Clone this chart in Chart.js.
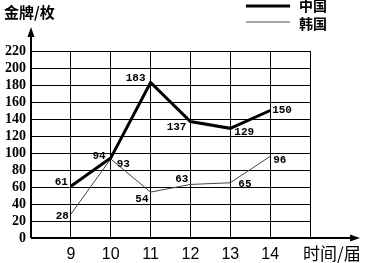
<!DOCTYPE html>
<html>
<head>
<meta charset="utf-8">
<script src="https://cdn.jsdelivr.net/npm/chart.js@4.4.0/dist/chart.umd.min.js"></script>
<style>
  html, body { margin: 0; padding: 0; background: #fff; }
  #wrap { width: 366px; height: 263px; }
</style>
</head>
<body>
<div id="wrap"><canvas id="chart_medals" width="366" height="263"></canvas></div>
<script>
// 届次 (x) and 金牌数 (y)
const sessions = [9, 10, 11, 12, 13, 14];
const china = [61, 94, 183, 137, 129, 150];
const korea = [28, 93, 54, 63, 65, 96];
const yMax = 220;
const yStep = 20;

// where each value label sits next to its point: [align, dx, dy]
const chinaLabelPos = [
  ["right", -3, -4], ["right", -5, -2], ["right", -5, -4],
  ["right", -4, 6], ["left", 4, 4], ["left", 2, 0],
];
const koreaLabelPos = [
  ["right", -2, 2], ["left", 6, 5], ["right", -2, 7],
  ["right", -2, -5], ["left", 8, 1], ["left", 3, 4],
];

const toPoints = (values) => values.map((v, i) => ({ x: sessions[i], y: v }));

const valueLabels = {
  id: "valueLabels",
  afterDatasetsDraw(chart) {
    const ctx = chart.ctx;
    ctx.save();
    ctx.font = "bold 11px 'Liberation Mono'";
    ctx.fillStyle = "#000";
    ctx.textBaseline = "middle";
    chart.data.datasets.forEach((ds, i) => {
      const meta = chart.getDatasetMeta(i);
      meta.data.forEach((pt, j) => {
        const [align, dx, dy] = ds.labelPos[j];
        ctx.textAlign = align;
        ctx.fillText(String(ds.data[j].y), pt.x + dx, pt.y + dy);
      });
    });
    ctx.restore();
  },
};

const axesAndText = {
  id: "axesAndText",
  afterDraw(chart) {
    const ctx = chart.ctx;
    const { left, right, top, bottom } = chart.chartArea;
    ctx.save();
    ctx.strokeStyle = "#000";
    ctx.fillStyle = "#000";
    ctx.lineWidth = 2;

    // y axis with arrow
    ctx.beginPath();
    ctx.moveTo(left, bottom);
    ctx.lineTo(left, top - 18);
    ctx.stroke();
    ctx.beginPath();
    ctx.moveTo(left, top - 24);
    ctx.lineTo(left - 3.5, top - 14);
    ctx.lineTo(left + 3.5, top - 14);
    ctx.closePath();
    ctx.fill();

    // x axis with arrow
    ctx.beginPath();
    ctx.moveTo(left, bottom);
    ctx.lineTo(right + 44, bottom);
    ctx.stroke();
    ctx.beginPath();
    ctx.moveTo(right + 50, bottom);
    ctx.lineTo(right + 40, bottom - 3.5);
    ctx.lineTo(right + 40, bottom + 3.5);
    ctx.closePath();
    ctx.fill();

    // axis titles
    ctx.textBaseline = "middle";
    ctx.textAlign = "left";
    ctx.font = "bold 15px 'Noto Sans CJK SC'";
    ctx.fillText("金牌/枚", 4, 12);
    ctx.font = "17px 'Noto Sans CJK SC'";
    ctx.fillText("时间/届", 303, 254);

    // legend
    ctx.lineWidth = 3;
    ctx.beginPath();
    ctx.moveTo(246, 6);
    ctx.lineTo(290, 6);
    ctx.stroke();
    ctx.strokeStyle = "#888";
    ctx.lineWidth = 1.5;
    ctx.beginPath();
    ctx.moveTo(246, 22);
    ctx.lineTo(290, 22);
    ctx.stroke();
    ctx.font = "bold 14px 'Noto Sans CJK SC'";
    ctx.fillText("中国", 299, 6);
    ctx.fillText("韩国", 299, 24);
    ctx.restore();
  },
};

new Chart(document.getElementById("chart_medals"), {
  type: "line",
  data: {
    datasets: [
      {
        label: "中国",
        data: toPoints(china),
        labelPos: chinaLabelPos,
        borderColor: "#000",
        borderWidth: 3,
        pointRadius: 0,
        fill: false,
      },
      {
        label: "韩国",
        data: toPoints(korea),
        labelPos: koreaLabelPos,
        borderColor: "#444",
        borderWidth: 1,
        pointRadius: 0,
        fill: false,
      },
    ],
  },
  options: {
    responsive: false,
    animation: false,
    devicePixelRatio: 1,
    layout: { padding: { top: 51, right: 56, left: 0, bottom: 0 } },
    scales: {
      x: {
        type: "linear",
        min: sessions[0] - 1,
        max: sessions[sessions.length - 1] + 1,
        afterFit: (scale) => { scale.height = 25; },
        border: { display: false },
        grid: { color: "#000", lineWidth: 1, drawTicks: false },
        ticks: {
          stepSize: 1,
          autoSkip: false,
          padding: 7,
          color: "#000",
          font: { family: "'Liberation Sans'", size: 16 },
          callback: (v) => (sessions.includes(v) ? String(v) : ""),
        },
      },
      y: {
        min: 0,
        max: yMax,
        afterFit: (scale) => { scale.width = 31; },
        border: { display: false },
        grid: { color: "#000", lineWidth: 1, drawTicks: false },
        ticks: {
          stepSize: yStep,
          autoSkip: false,
          padding: 5,
          color: "#000",
          font: { family: "'Liberation Serif'", size: 14, weight: "bold" },
        },
      },
    },
    plugins: {
      legend: { display: false },
      title: { display: false },
      tooltip: { enabled: false },
    },
  },
  plugins: [valueLabels, axesAndText],
});
</script>
</body>
</html>
